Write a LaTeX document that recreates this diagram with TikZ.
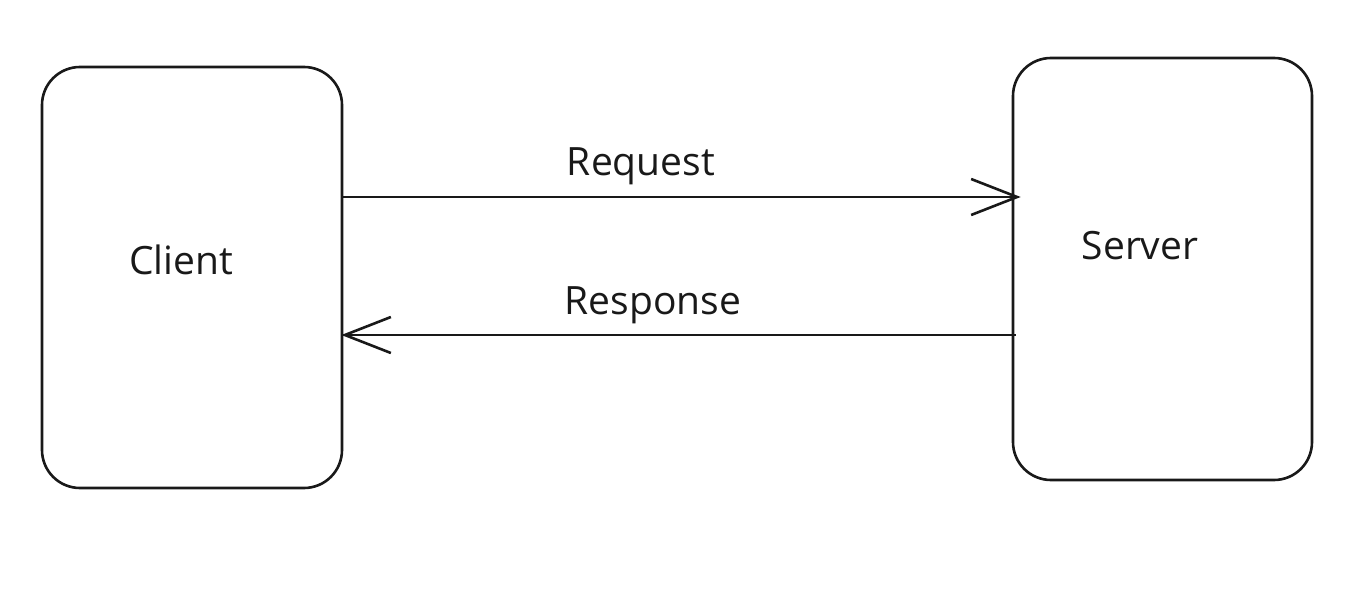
\documentclass[tikz,border=0pt]{standalone}
\usepackage{fontspec}
\setmainfont{Open Sans}
\usetikzlibrary{arrows.meta}
\tikzset{
  box/.style={draw=black!90, line width=2.6pt, rounded corners=38pt, minimum width=#1, inner sep=0pt},
  box/.default=300pt,
  lbl/.style={font=\fontsize{39}{44}\selectfont, text=black!90, inner sep=0pt},
  arr/.style={draw=black!90, line width=2.6pt, -{Straight Barb[length=46pt, width=36pt, line width=2.6pt]}}
}
\begin{document}
\begin{tikzpicture}[x=1pt,y=-1pt]
\useasboundingbox (0,0) rectangle (1368,594);
\node[box=300pt, minimum height=421pt] (client) at (192,277.5) {};
\node[box=299pt, minimum height=422pt] (server) at (1162.5,269) {};
\node[lbl] (clientt) at (181,260) {Client};
\node[lbl] (servert) at (1140,246) {Server};
\coordinate (reqy) at (0,197);
\coordinate (resy) at (0,335);
\draw[arr] (client.east |- reqy) -- ([xshift=9pt]server.west |- reqy);
\draw[arr] ([xshift=4pt]server.west |- resy) -- ([xshift=-2pt]client.east |- resy);
\node[lbl] (req) at (641,166) {Request};
\node[lbl] (res) at (653,305) {Response};
\end{tikzpicture}
\end{document}
